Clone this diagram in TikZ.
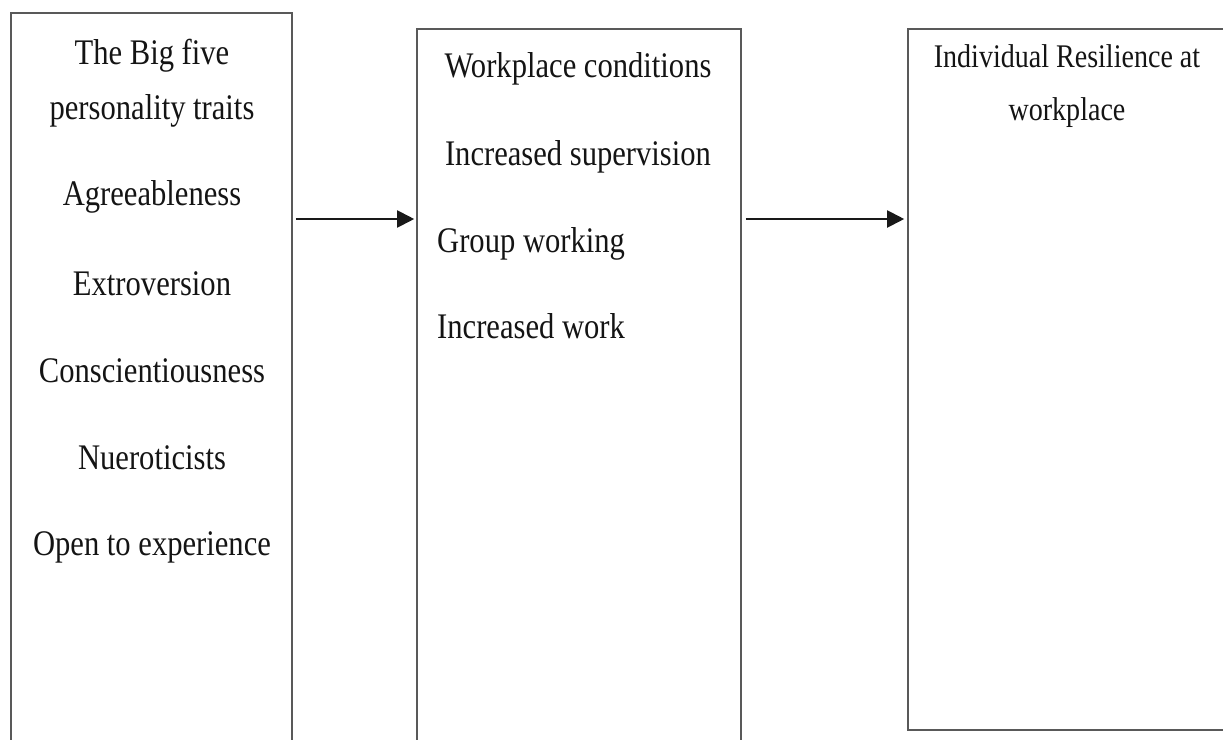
\documentclass[tikz,border=0pt]{standalone}
\usepackage{fontspec}
\setmainfont[FakeStretch=0.85]{Liberation Serif}
\usetikzlibrary{arrows.meta}
\tikzset{
  box/.style={draw=black!65, line width=1.6pt, fill=none, inner sep=0pt},
  lbl/.style={inner sep=0pt, font=\fontsize{36pt}{40pt}\selectfont, text=black!92},
  lblsmall/.style={lbl, font=\fontsize{33pt}{38pt}\selectfont},
  arr/.style={draw=black!90, line width=2pt, -{Triangle[length=17pt,width=17pt]}}
}
\begin{document}
\begin{tikzpicture}[x=1pt,y=-1pt]
\useasboundingbox (0,0) rectangle (1223,739);
% boxes
\node[box, minimum width=281pt, minimum height=732pt] (b1) at (151.5,379) {};
\node[box, minimum width=324pt, minimum height=716pt] (b2) at (579,387) {};
\node[box, minimum width=318pt, minimum height=701pt] (b3) at (1067,379.5) {};
% box 1 text
\node[lbl, anchor=base] (t1) at (152,64) {The Big five};
\node[lbl, anchor=base] (t2) at (152,119) {personality traits};
\node[lbl, anchor=base] (t3) at (152,205) {Agreeableness};
\node[lbl, anchor=base] (t4) at (152,295) {Extroversion};
\node[lbl, anchor=base] (t5) at (152,382) {Conscientiousness};
\node[lbl, anchor=base] (t6) at (152,469) {Nueroticists};
\node[lbl, anchor=base] (t7) at (152,555) {Open to experience};
% box 2 text
\node[lbl, anchor=base] (w1) at (578,77) {Workplace conditions};
\node[lbl, anchor=base] (w2) at (578,165) {Increased supervision};
\node[lbl, anchor=base west] (w3) at (437,252) {Group working};
\node[lbl, anchor=base west] (w4) at (437,338) {Increased work};
% box 3 text
\node[lblsmall, anchor=base] (r1) at (1067,67) {Individual Resilience at};
\node[lblsmall, anchor=base] (r2) at (1067,120) {workplace};
% arrows
\coordinate (lvl) at (0,219);
\draw[arr, shorten <=3pt, shorten >=2pt] (b1.east |- lvl) -- (b2.west |- lvl);
\draw[arr, shorten <=4pt, shorten >=3pt] (b2.east |- lvl) -- (b3.west |- lvl);
\end{tikzpicture}
\end{document}
